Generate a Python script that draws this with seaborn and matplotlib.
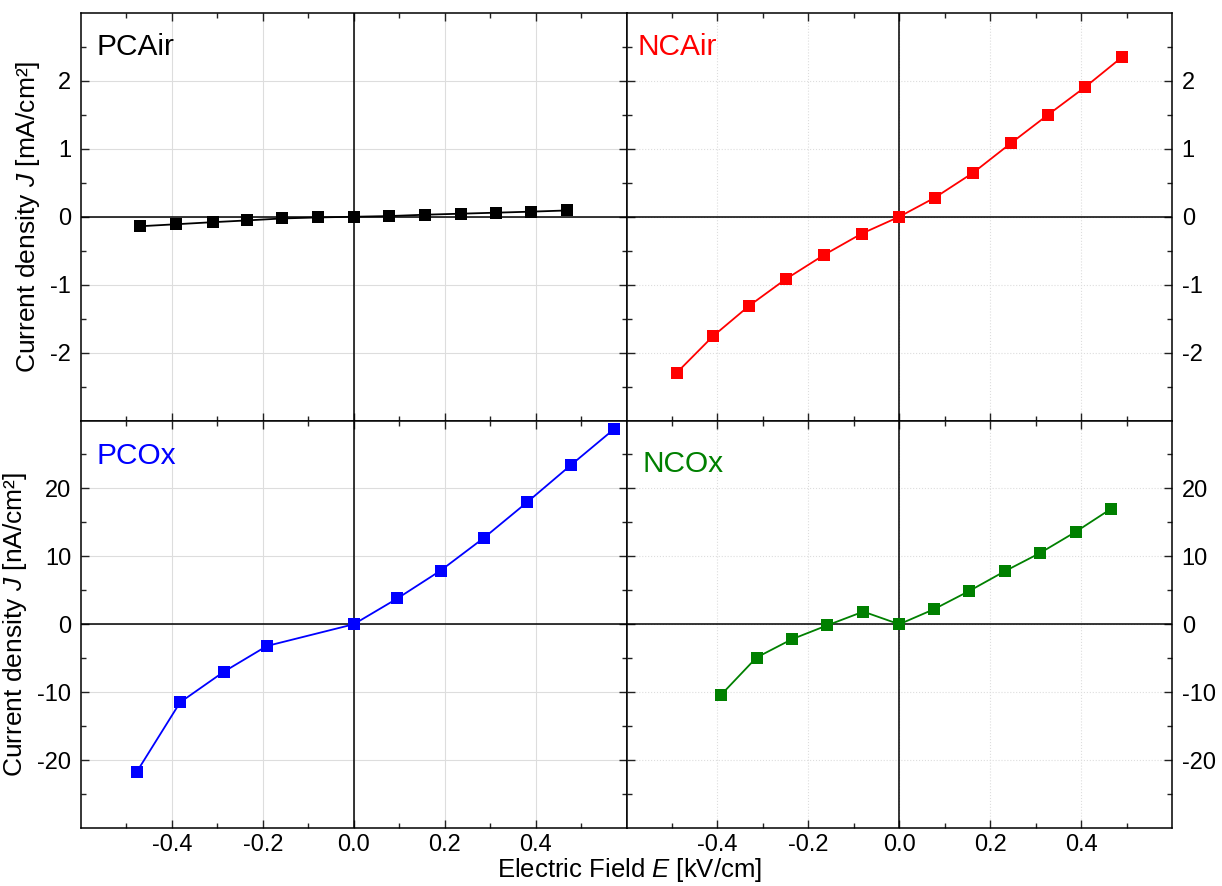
import numpy as np
import pandas as pd
import matplotlib
matplotlib.use("Agg")
import matplotlib.pyplot as plt
import seaborn as sns
from matplotlib.ticker import FixedLocator

# ---- data ----
pcair_E = [-0.47, -0.39, -0.31, -0.235, -0.157, -0.078, 0.0, 0.078, 0.157, 0.235, 0.313, 0.39, 0.47]
pcair_J = [-0.14, -0.11, -0.08, -0.054, -0.025, -0.01, 0.0, 0.01, 0.03, 0.045, 0.06, 0.075, 0.093]

ncair_E = [-0.49, -0.41, -0.33, -0.25, -0.165, -0.083, 0.0, 0.078, 0.163, 0.245, 0.327, 0.409, 0.49]
ncair_J = [-2.30, -1.76, -1.31, -0.92, -0.56, -0.25, 0.0, 0.28, 0.65, 1.08, 1.50, 1.91, 2.35]

pcox_E = [-0.477, -0.382, -0.286, -0.191, 0.0, 0.096, 0.191, 0.286, 0.382, 0.477, 0.572]
pcox_J = [-21.7, -11.5, -7.0, -3.2, 0.0, 3.8, 7.9, 12.7, 18.0, 23.4, 28.7]

ncox_E = [-0.392, -0.314, -0.236, -0.158, -0.079, 0.0, 0.076, 0.154, 0.232, 0.31, 0.388, 0.466]
ncox_J = [-10.4, -4.9, -2.2, -0.15, 1.86, 0.0, 2.2, 4.9, 7.8, 10.5, 13.6, 17.0]

panel_names = ["PCAir", "NCAir", "PCOx", "NCOx"]
panel_colors = ["#000000", "#ff0000", "#0000ff", "#008000"]
x_ticks = [-0.4, -0.2, 0.0, 0.2, 0.4]
x_ticklabels = ["-0.4", "-0.2", "0.0", "0.2", "0.4"]
x_minor = [-0.5, -0.3, -0.1, 0.1, 0.3, 0.5]
top_yticks = [-2, -1, 0, 1, 2]
top_yminor = [-2.5, -1.5, -0.5, 0.5, 1.5, 2.5]
bot_yticks = [-20, -10, 0, 10, 20]
bot_yminor = [-25, -15, -5, 5, 15, 25]

sns.set_theme(style="ticks")
plt.rcParams['font.family'] = ['Liberation Sans', 'DejaVu Sans']
plt.rcParams['mathtext.fontset'] = 'custom'
plt.rcParams['mathtext.rm'] = 'Liberation Sans'
plt.rcParams['mathtext.it'] = 'Liberation Sans:italic'
plt.rcParams['axes.unicode_minus'] = False
plt.rcParams['text.color'] = 'black'
plt.rcParams['axes.labelcolor'] = 'black'
plt.rcParams['xtick.color'] = 'black'
plt.rcParams['ytick.color'] = 'black'

fig, axes = plt.subplots(2, 2, figsize=(12.22, 8.86), dpi=100)
fig.subplots_adjust(left=81/1222, right=1172/1222, top=1-13/886, bottom=1-828/886,
                    wspace=0, hspace=0)

data = [(pcair_E, pcair_J), (ncair_E, ncair_J), (pcox_E, pcox_J), (ncox_E, ncox_J)]
text_pos = [(0.029, 0.896), (0.02, 0.896), (0.029, 0.893), (0.03, 0.873)]

for i, ax in enumerate(axes.flat):
    E, J = data[i]
    df = pd.DataFrame({"E": E, "J": J})
    row, col = divmod(i, 2)
    grid_ls = '-' if col == 0 else ':'
    ax.set_axisbelow(True)
    ax.grid(True, which='major', color='#dddddd', lw=0.8, ls=grid_ls)
    ax.axhline(0, color='black', lw=1.1, zorder=1)
    ax.axvline(0, color='black', lw=1.1, zorder=1)
    sns.lineplot(data=df, x="E", y="J", ax=ax, color=panel_colors[i], marker='s',
                 markersize=8.5, markeredgewidth=0, lw=1.3, sort=False, zorder=3)
    ax.set_xlim(-0.6, 0.6)
    if row == 0:
        ax.set_ylim(-3, 3)
        ax.yaxis.set_major_locator(FixedLocator(top_yticks))
        ax.yaxis.set_minor_locator(FixedLocator(top_yminor))
    else:
        ax.set_ylim(-30, 30)
        ax.yaxis.set_major_locator(FixedLocator(bot_yticks))
        ax.yaxis.set_minor_locator(FixedLocator(bot_yminor))
    ax.xaxis.set_major_locator(FixedLocator(x_ticks))
    ax.xaxis.set_minor_locator(FixedLocator(x_minor))
    ax.set_xticklabels(x_ticklabels)
    ax.tick_params(which='both', direction='in', top=True, bottom=True, left=True, right=True,
                   color='#222222', width=1.0, labelsize=17, labelcolor='black')
    ax.tick_params(axis='y', pad=7)
    ax.tick_params(axis='x', pad=4)
    ax.tick_params(which='major', length=6)
    ax.tick_params(which='minor', length=3.5)
    ax.tick_params(labelbottom=(row == 1), labelleft=(col == 0), labelright=(col == 1))
    for s in ax.spines.values():
        s.set_linewidth(1.1)
        s.set_color('black')
    ax.set_xlabel("")
    ax.set_ylabel("")
    ax.text(text_pos[i][0], text_pos[i][1], panel_names[i], transform=ax.transAxes,
            fontsize=21.5, color=panel_colors[i], va='baseline', ha='left')

axes[0, 0].set_ylabel("Current density $J$ [mA/cm²]", fontsize=19, labelpad=6)
axes[1, 0].set_ylabel("Current density $J$ [nA/cm²]", fontsize=19, labelpad=6)
fig.text(0.515, 0.002, "Electric Field $E$ [kV/cm]", ha='center', va='bottom', fontsize=18.5)

fig.savefig("out.png", dpi=100)
